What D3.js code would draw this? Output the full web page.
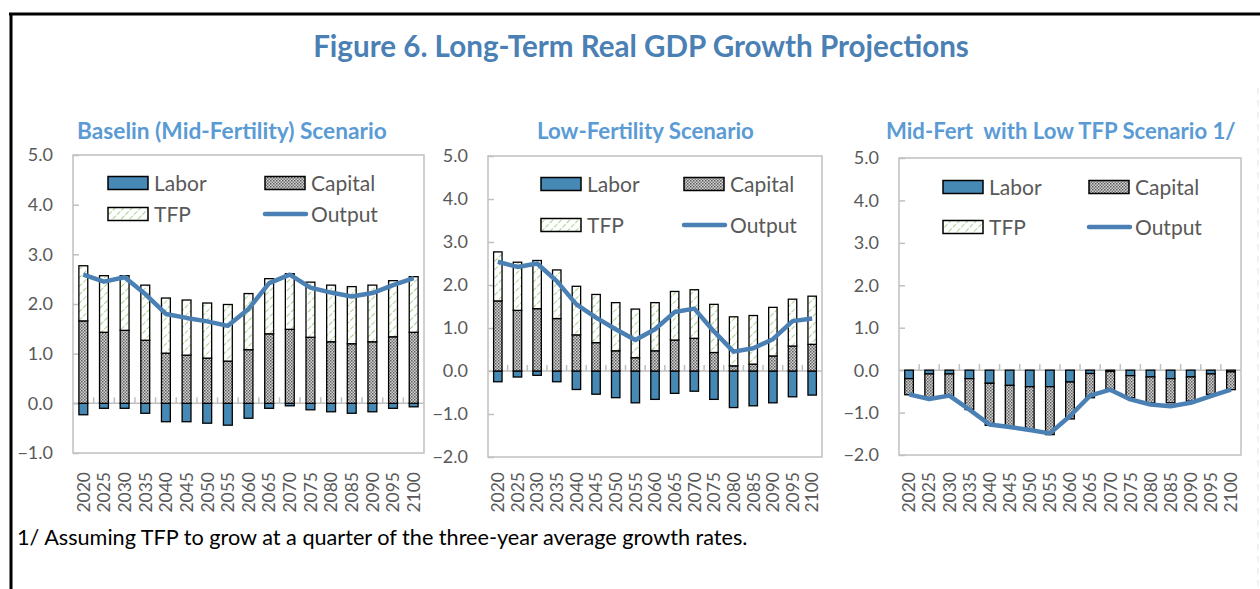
<!DOCTYPE html>
<meta charset="utf-8">
<script src="https://cdn.jsdelivr.net/npm/d3@7/dist/d3.min.js"></script>
<style>
body { margin: 0; background: #fff; }
text { font-family: Lato, "Open Sans", sans-serif; }
.tick-lbl { fill: #595959; font-size: 18px; }
.x-lbl { fill: #595959; font-size: 17.5px; }
.leg { fill: #595959; font-size: 21px; }
</style>
<body>
<script>
// categories
var years = ["2020","2025","2030","2035","2040","2045","2050","2055","2060",
             "2065","2070","2075","2080","2085","2090","2095","2100"];
var seriesNames = ["Labor", "Capital", "TFP", "Output"];

// Baseline (mid-fertility)
var baseLabor   = [-0.23,-0.10,-0.10,-0.20,-0.37,-0.37,-0.40,-0.44,-0.30,-0.10,-0.05,-0.13,-0.17,-0.20,-0.17,-0.10,-0.07];
var baseCapital = [1.66,1.43,1.47,1.27,1.01,0.97,0.91,0.85,1.08,1.40,1.49,1.33,1.24,1.20,1.24,1.34,1.43];
var baseTfp     = [1.11,1.14,1.10,1.11,1.11,1.11,1.11,1.14,1.13,1.11,1.12,1.11,1.14,1.15,1.14,1.13,1.12];
var baseOutput  = [2.59,2.45,2.54,2.20,1.80,1.72,1.65,1.56,1.90,2.42,2.59,2.33,2.23,2.15,2.22,2.38,2.52];

// Low fertility
var lowLabor   = [-0.25,-0.14,-0.10,-0.25,-0.43,-0.54,-0.62,-0.74,-0.66,-0.52,-0.47,-0.66,-0.85,-0.81,-0.74,-0.60,-0.56];
var lowCapital = [1.63,1.41,1.45,1.22,0.84,0.66,0.47,0.31,0.47,0.72,0.76,0.43,0.12,0.16,0.35,0.58,0.62];
var lowTfp     = [1.14,1.12,1.12,1.13,1.13,1.12,1.12,1.13,1.12,1.13,1.13,1.12,1.14,1.13,1.13,1.09,1.12];
var lowOutput  = [2.54,2.42,2.50,2.09,1.55,1.24,0.97,0.72,0.97,1.37,1.45,0.92,0.45,0.53,0.74,1.16,1.22];

// Mid-fert with low TFP
var ltfpLabor   = [-0.20,-0.09,-0.09,-0.20,-0.31,-0.36,-0.39,-0.39,-0.28,-0.08,-0.03,-0.13,-0.16,-0.20,-0.16,-0.09,-0.04];
var ltfpCapital = [-0.38,-0.59,-0.52,-0.73,-0.99,-0.98,-1.01,-1.13,-0.87,-0.57,-0.44,-0.52,-0.61,-0.57,-0.57,-0.48,-0.42];
var ltfpTfp     = [0,0,0,0,0,0,0,0,0,0,0,0,0,0,0,0,0];
var ltfpOutput  = [-0.57,-0.68,-0.60,-0.93,-1.28,-1.34,-1.41,-1.49,-1.08,-0.60,-0.46,-0.69,-0.81,-0.85,-0.77,-0.61,-0.46];

var yTicks1 = [-1, 0, 1, 2, 3, 4, 5];
var yTicks2 = [-2, -1, 0, 1, 2, 3, 4, 5];

var title = "Figure 6. Long-Term Real GDP Growth Projections";
var footnote = "1/ Assuming TFP to grow at a quarter of the three-year average growth rates.";

var width = 1260, height = 589;
var blue = "#4689b4", lineBlue = "#4a80b3";

var svg = d3.select("body").append("svg")
    .attr("width", width)
    .attr("height", height);

var defs = svg.append("defs");
// capital: grey dotted pattern
var pc = defs.append("pattern").attr("id", "capPat")
    .attr("patternUnits", "userSpaceOnUse").attr("width", 3).attr("height", 3);
pc.append("rect").attr("width", 3).attr("height", 3).attr("fill", "#d4d4d4");
pc.append("rect").attr("width", 1.5).attr("height", 1.5).attr("fill", "#5a5a5a");
pc.append("rect").attr("x", 1.5).attr("y", 1.5).attr("width", 1.5).attr("height", 1.5).attr("fill", "#747474");
// tfp: light green diagonal
var pt = defs.append("pattern").attr("id", "tfpPat")
    .attr("patternUnits", "userSpaceOnUse").attr("width", 6).attr("height", 6)
    .attr("patternTransform", "rotate(45)");
pt.append("rect").attr("width", 6).attr("height", 6).attr("fill", "#fff");
pt.append("line").attr("x1", 0).attr("y1", 0).attr("x2", 0).attr("y2", 6)
    .attr("stroke", "#a9d18e").attr("stroke-width", 2).attr("stroke-dasharray", "3,1.5");

var fills = { labor: blue, capital: "url(#capPat)", tfp: "url(#tfpPat)" };

// outer frame
svg.append("line").attr("x1", 9).attr("x2", width).attr("y1", 14).attr("y2", 14)
    .attr("stroke", "#000").attr("stroke-width", 3);
svg.append("line").attr("x1", 11).attr("x2", 11).attr("y1", 13).attr("y2", height)
    .attr("stroke", "#000").attr("stroke-width", 3);
svg.append("line").attr("x1", 1258).attr("x2", 1258).attr("y1", 88).attr("y2", height)
    .attr("stroke", "#e4e4e4").attr("stroke-width", 1).attr("stroke-dasharray", "6,6");

function fitText(sel, w) {
  var fs = parseFloat(sel.style("font-size"));
  var len = sel.node().getComputedTextLength();
  sel.style("font-size", (fs * w / len) + "px");
}

svg.append("text").attr("x", 641).attr("y", 57)
    .attr("text-anchor", "middle")
    .style("font-weight", "bold").style("font-size", "26px")
    .attr("fill", "#4a80b4")
    .text(title)
    .call(fitText, 656);

svg.append("text").attr("x", 17).attr("y", 545)
    .style("font-size", "19px").attr("fill", "#000")
    .text(footnote)
    .call(fitText, 731);

var panels = [
  { name: "Baselin (Mid-Fertility) Scenario", tx: 77, tw: 310,
    x0: 73, x1: 424, y0: 155, y1: 453, dom: [-1, 5], ticks: yTicks1,
    labor: baseLabor, capital: baseCapital, tfp: baseTfp, output: baseOutput,
    leg: { x1: 108, x2: 265, r1: 183, r2: 214 } },
  { name: "Low-Fertility Scenario", tx: 537, tw: 217,
    x0: 488, x1: 822, y0: 156, y1: 457, dom: [-2, 5], ticks: yTicks2,
    labor: lowLabor, capital: lowCapital, tfp: lowTfp, output: lowOutput,
    leg: { x1: 541, x2: 684, r1: 184, r2: 225 } },
  { name: "Mid-Fert  with Low TFP Scenario 1/", tx: 886, tw: 350,
    x0: 899, x1: 1241, y0: 158, y1: 455, dom: [-2, 5], ticks: yTicks2,
    labor: ltfpLabor, capital: ltfpCapital, tfp: ltfpTfp, output: ltfpOutput,
    leg: { x1: 943, x2: 1089, r1: 187, r2: 227 } }
];

panels.forEach(function(p) {
  var g = svg.append("g");
  var x = d3.scaleBand().domain(years).range([p.x0, p.x1]).paddingInner(0.57).paddingOuter(0.285);
  var xb = d3.scaleBand().domain(years).range([p.x0, p.x1]);
  var y = d3.scaleLinear().domain(p.dom).range([p.y1, p.y0]);

  g.append("text").attr("x", p.tx).attr("y", 139)
      .style("font-weight", "bold").style("font-size", "19px")
      .attr("fill", "#5b9bd5").attr("xml:space", "preserve")
      .text(p.name)
      .call(fitText, p.tw);

  // plot frame
  g.append("rect").attr("x", p.x0).attr("y", p.y0)
      .attr("width", p.x1 - p.x0).attr("height", p.y1 - p.y0)
      .attr("fill", "none").attr("stroke", "#c0c0c0").attr("stroke-width", 1.5);

  // y axis
  var ya = g.append("g").attr("transform", "translate(" + p.x0 + ",0)")
      .call(d3.axisRight(y).tickValues(p.ticks).tickSize(6).tickFormat(""));
  ya.select(".domain").remove();
  ya.selectAll("line").attr("stroke", "#c0c0c0").attr("stroke-width", 1.5);
  g.selectAll(".ylbl").data(p.ticks).enter().append("text")
      .attr("class", "tick-lbl")
      .attr("x", p.x0 - 20).attr("y", function(d) { return y(d); })
      .attr("dy", "0.36em").attr("text-anchor", "end")
      .text(function(d) { return d3.format(".1f")(d); });

  // zero line + category ticks
  g.append("line").attr("x1", p.x0).attr("x2", p.x1)
      .attr("y1", y(0)).attr("y2", y(0))
      .attr("stroke", "#c0c0c0").attr("stroke-width", 1.5);
  g.selectAll(".ctick").data(years.slice(1)).enter().append("line")
      .attr("x1", function(d) { return xb(d); }).attr("x2", function(d) { return xb(d); })
      .attr("y1", y(0)).attr("y2", y(0) - 6)
      .attr("stroke", "#c0c0c0").attr("stroke-width", 1.5);

  // x labels
  g.selectAll(".xlbl").data(years).enter().append("text")
      .attr("class", "x-lbl")
      .attr("transform", function(d) {
        return "translate(" + (xb(d) + xb.bandwidth() / 2) + "," + 472 + ") rotate(-90)"; })
      .attr("dy", "0.36em").attr("text-anchor", "end")
      .text(function(d) { return d; });

  // stacked bars
  var rows = years.map(function(yr, i) {
    return { year: yr, labor: p.labor[i], capital: p.capital[i], tfp: p.tfp[i] };
  });
  var stack = d3.stack().keys(["labor", "capital", "tfp"]).offset(d3.stackOffsetDiverging)(rows);
  stack.forEach(function(s) {
    g.selectAll(".bar-" + s.key).data(s.filter(function(d) { return d[1] - d[0] !== 0; }))
      .enter().append("rect")
        .attr("x", function(d) { return x(d.data.year); })
        .attr("width", x.bandwidth())
        .attr("y", function(d) { return y(d[1]); })
        .attr("height", function(d) { return y(d[0]) - y(d[1]); })
        .attr("fill", fills[s.key])
        .attr("stroke", "#000").attr("stroke-width", 1.3);
  });

  // output line
  var line = d3.line()
      .x(function(d, i) { return xb(years[i]) + xb.bandwidth() / 2; })
      .y(function(d) { return y(d); });
  g.append("path").datum(p.output)
      .attr("d", line).attr("fill", "none")
      .attr("stroke", lineBlue).attr("stroke-width", 4.5)
      .attr("stroke-linejoin", "round");

  // legend
  var L = p.leg;
  var items = [
    { n: seriesNames[0], x: L.x1, yc: L.r1, f: fills.labor },
    { n: seriesNames[1], x: L.x2, yc: L.r1, f: fills.capital },
    { n: seriesNames[2], x: L.x1, yc: L.r2, f: fills.tfp },
    { n: seriesNames[3], x: L.x2, yc: L.r2, f: null }
  ];
  items.forEach(function(it) {
    if (it.f) {
      g.append("rect").attr("x", it.x).attr("y", it.yc - 6.5)
          .attr("width", 40).attr("height", 13)
          .attr("fill", it.f).attr("stroke", "#000").attr("stroke-width", 1.5);
    } else {
      g.append("line").attr("x1", it.x).attr("x2", it.x + 41)
          .attr("y1", it.yc).attr("y2", it.yc)
          .attr("stroke", lineBlue).attr("stroke-width", 4.5).attr("stroke-linecap", "round");
    }
    g.append("text").attr("class", "leg")
        .attr("x", it.x + 46).attr("y", it.yc).attr("dy", "0.36em")
        .text(it.n);
  });
});
</script>
</body>
</html>
